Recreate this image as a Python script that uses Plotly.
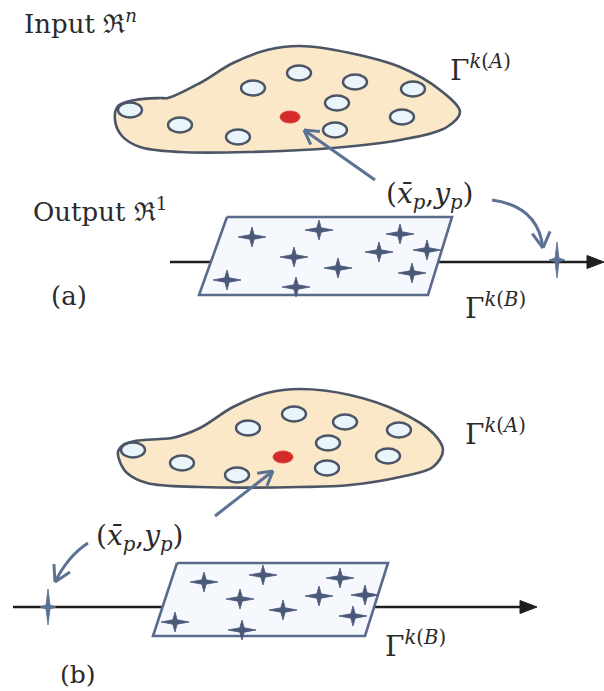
import math
import plotly.graph_objects as go

# ---------------- data (pixel-space diagram coordinates) ----------------
# panel (a): input region outline and sample points
blob_a_x = [168, 200, 233, 267, 300, 350, 400, 440, 460, 447, 400, 333, 250, 180, 140, 122, 115, 118, 135, 160, 168]
blob_a_y = [98, 83, 63, 50, 46, 53, 67, 90, 112, 127, 140, 148, 152, 152, 147, 136, 120, 106, 100, 98, 98]
ell_a_x = [130, 180, 238, 253, 299, 355, 413, 337, 402, 335]
ell_a_y = [110, 125, 137, 88, 73, 82, 89, 103, 117, 130]
red_a = [290, 117]

# panel (b): input region outline and sample points
blob_b_x = [172, 200, 233, 267, 300, 350, 400, 433, 443, 433, 400, 350, 300, 200, 147, 127, 120, 118, 123, 135, 160, 172]
blob_b_y = [438, 428, 407, 393, 389, 395, 412, 433, 450, 467, 477, 485, 487, 487, 483, 473, 462, 452, 445, 441, 439, 438]
ell_b_x = [133, 182, 237, 248, 294, 345, 399, 328, 388, 327]
ell_b_y = [450, 463, 475, 428, 414, 422, 430, 443, 456, 468]
red_b = [283, 457]

# output regions (parallelograms) and output points (stars)
para_a_x = [227, 452, 428, 199]
para_a_y = [217, 217, 295, 295]
para_b_x = [177, 388, 365, 153]
para_b_y = [563, 563, 636, 636]
star_a_x = [252, 319, 400, 294, 379, 427, 338, 227, 412, 296]
star_a_y = [237, 230, 234, 257, 252, 250, 268, 280, 273, 287]
star_b_x = [204, 263, 340, 240, 319, 365, 283, 175, 353, 242]
star_b_y = [582, 575, 578, 599, 596, 595, 610, 622, 616, 630]
mapped_a = [557, 260]
mapped_b = [48, 607]

# output axes: x start, arrow tip, y
axis_a = [170, 604, 262]
axis_b = [13, 537, 607]

# ---------------- styles ----------------
EDGE = "#4b5566"
BLOB_FILL = "#fbe8c8"
ELL_FILL = "#eaf4fb"
RED = "#d42a2a"
PARA_EDGE = "#5a6a8c"
PARA_FILL = "#f5f9fd"
STAR = "#4b5878"
STAR_HI = "#5b7095"
ARROW = "#5b7295"
AXIS = "#1e1e1e"
TXT = "#2a2a2a"
FONT = "DejaVu Serif"

fig = go.Figure()

def blob(xs, ys):
    fig.add_trace(go.Scatter(x=xs, y=ys, mode="lines", fill="toself",
                             fillcolor=BLOB_FILL, line=dict(color=EDGE, width=2.6, shape="spline", smoothing=1.0),
                             hoverinfo="skip"))

def axis_line(ax):
    x0, tip, y = ax
    fig.add_trace(go.Scatter(x=[x0, tip - 14], y=[y, y], mode="lines",
                             line=dict(color=AXIS, width=2.6), hoverinfo="skip"))
    fig.add_trace(go.Scatter(x=[tip, tip - 17, tip - 17, tip], y=[y, y - 6.5, y + 6.5, y], mode="lines",
                             fill="toself", fillcolor=AXIS, line=dict(color=AXIS, width=1), hoverinfo="skip"))

def para(xs, ys):
    fig.add_trace(go.Scatter(x=xs + [xs[0]], y=ys + [ys[0]], mode="lines", fill="toself",
                             fillcolor=PARA_FILL, line=dict(color=PARA_EDGE, width=2.6), hoverinfo="skip"))

def stars(xs, ys, w, h, waist, color):
    px, py = [], []
    for cx, cy in zip(xs, ys):
        px += [cx - w, cx - waist, cx, cx + waist, cx + w, cx + waist, cx, cx - waist, cx - w, None]
        py += [cy, cy - waist, cy - h, cy - waist, cy, cy + waist, cy + h, cy + waist, cy, None]
    fig.add_trace(go.Scatter(x=px, y=py, mode="lines", fill="toself", fillcolor=color,
                             line=dict(color=color, width=0.8), hoverinfo="skip"))

blob(blob_a_x, blob_a_y)
blob(blob_b_x, blob_b_y)
axis_line(axis_a)
axis_line(axis_b)
para(para_a_x, para_a_y)
para(para_b_x, para_b_y)
stars(star_a_x, star_a_y, 14, 10, 2.2, STAR)
stars(star_b_x, star_b_y, 14, 10, 2.2, STAR)
stars([mapped_a[0], mapped_b[0]], [mapped_a[1], mapped_b[1]], 8, 18, 2.0, STAR_HI)

shapes = []
for xs, ys in ((ell_a_x, ell_a_y), (ell_b_x, ell_b_y)):
    for cx, cy in zip(xs, ys):
        shapes.append(dict(type="circle", xref="x", yref="y", x0=cx - 12, x1=cx + 12, y0=cy - 7.5, y1=cy + 7.5,
                           fillcolor=ELL_FILL, line=dict(color=EDGE, width=2.4), layer="above"))
for cx, cy in (red_a, red_b):
    shapes.append(dict(type="circle", xref="x", yref="y", x0=cx - 10, x1=cx + 10, y0=cy - 6, y1=cy + 6,
                       fillcolor=RED, line=dict(color="#e04040", width=1), layer="above"))

def vhead(tx, ty, fx, fy, L=16, ang=30):
    d = math.atan2(ty - fy, tx - fx)
    out = []
    for s in (-1, 1):
        a = d + math.pi + s * math.radians(ang)
        out.append(dict(type="line", xref="x", yref="y", x0=tx, y0=ty,
                        x1=tx + L * math.cos(a), y1=ty + L * math.sin(a),
                        line=dict(color=ARROW, width=3), layer="above"))
    return out

# straight arrows to the red query points
for (sx, sy, tx, ty) in ((375, 180, 304, 130), (215, 516, 273, 471)):
    shapes.append(dict(type="line", xref="x", yref="y", x0=sx, y0=sy, x1=tx, y1=ty,
                       line=dict(color=ARROW, width=3), layer="above"))
    shapes += vhead(tx, ty, sx, sy)

# curved arrows to mapped points
for (sx, sy, qx, qy, tx, ty) in ((492, 200, 538, 206, 543, 248), (88, 543, 68, 556, 55, 582)):
    shapes.append(dict(type="path", xref="x", yref="y",
                       path=f"M {sx},{sy} Q {qx},{qy} {tx},{ty}",
                       line=dict(color=ARROW, width=3), layer="above"))
    shapes += vhead(tx, ty, qx, qy, L=18)

def txt(x, y, s, size=26, xanchor="left"):
    return dict(x=x, y=y, xref="x", yref="y", text=s, showarrow=False, xanchor=xanchor, yanchor="middle",
                font=dict(family=FONT, size=size, color=TXT))

gam_a = "Γ<sup><i>k</i>(<i>A</i>)</sup>"
gam_b = "Γ<sup><i>k</i>(<i>B</i>)</sup>"
pt = "(<i>x̄</i><sub><i>p</i></sub>,<i>y</i><sub><i>p</i></sub>)"
annotations = [
    txt(22, 22, "Input ℜ<sup><i>n</i></sup>"),
    txt(31, 210, "Output ℜ<sup>1</sup>"),
    txt(69, 296, "(a)", xanchor="center"),
    txt(78, 674, "(b)", size=25, xanchor="center"),
    txt(448, 68, gam_a, size=28),
    txt(463, 432, gam_a, size=28),
    txt(463, 306, gam_b, size=28),
    txt(383, 644, gam_b, size=28),
    txt(430, 195, pt, size=28, xanchor="center"),
    txt(140, 537, pt, size=28, xanchor="center"),
]

fig.update_layout(
    width=604, height=691, margin=dict(l=0, r=0, t=0, b=0),
    paper_bgcolor="white", plot_bgcolor="white", showlegend=False,
    xaxis=dict(range=[0, 604], visible=False, fixedrange=True),
    yaxis=dict(range=[691, 0], visible=False, fixedrange=True),
    shapes=shapes, annotations=annotations,
)
fig.write_html("out.html", config={"displayModeBar": False},
               post_script="document.body.style.margin='0';document.body.style.overflow='hidden';")
